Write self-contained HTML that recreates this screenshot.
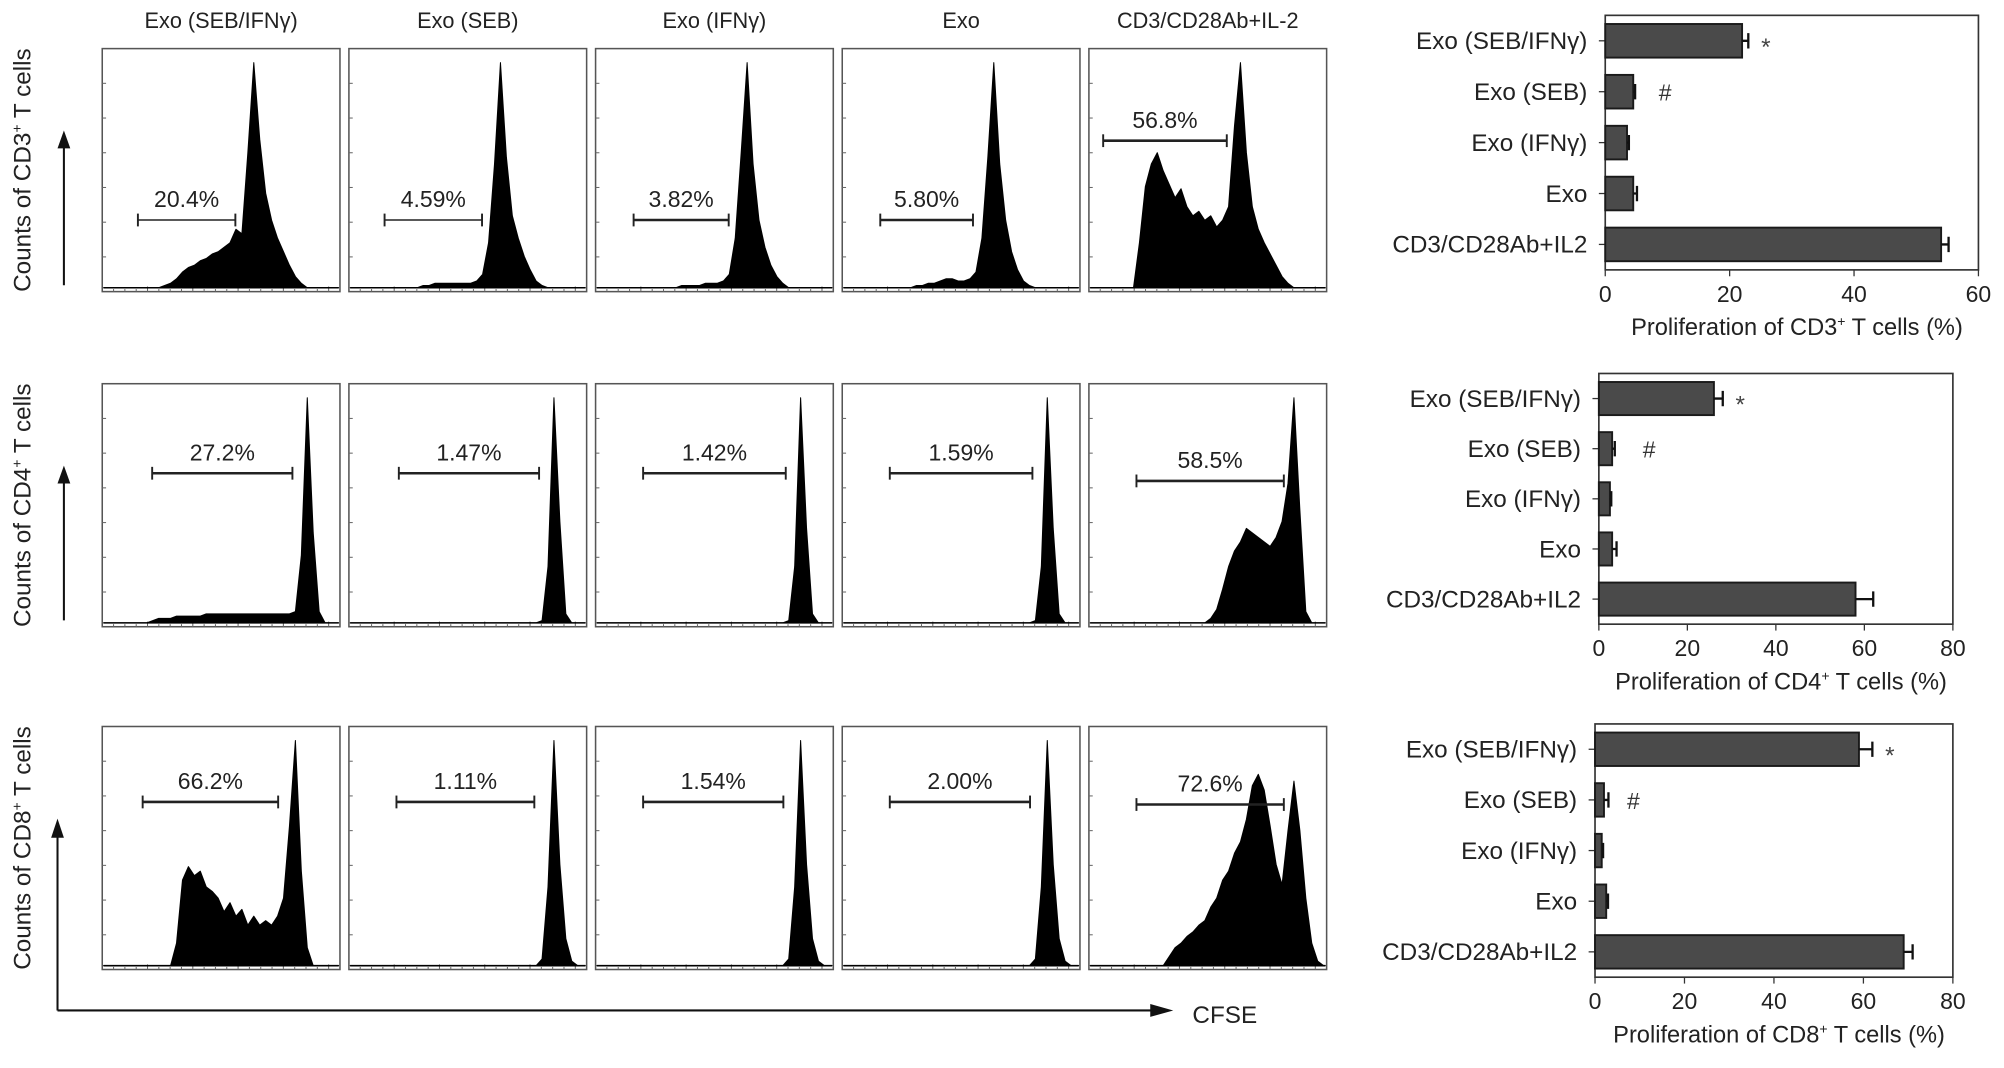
<!DOCTYPE html>
<html><head><meta charset="utf-8"><style>
html,body{margin:0;padding:0;background:#fff}
svg{display:block;font-family:"Liberation Sans",Arial,sans-serif}
</style></head><body>
<svg id="fig" width="2004" height="1068" viewBox="0 0 1568 835" preserveAspectRatio="none"></svg>
<script>
// ---------- Histogram data (40 bins each, relative counts) ----------
const columnTitles = ["Exo (SEB/IFNγ)","Exo (SEB)","Exo (IFNγ)","Exo","CD3/CD28Ab+IL-2"];
const rowLabels = ["CD3","CD4","CD8"];
const gateLabels = [["20.4%","4.59%","3.82%","5.80%","56.8%"],["27.2%","1.47%","1.42%","1.59%","58.5%"],["66.2%","1.11%","1.54%","2.00%","72.6%"]];
const h_r1p1 = [0,0,0,0,0,0,0,0,0,0,0.01,0.02,0.04,0.07,0.09,0.1,0.12,0.13,0.15,0.16,0.18,0.2,0.26,0.24,0.6,1.0,0.66,0.42,0.3,0.22,0.16,0.1,0.05,0.02,0,0,0,0,0,0];
const h_r1p2 = [0,0,0,0,0,0,0,0,0,0,0,0,0.01,0.01,0.02,0.02,0.02,0.02,0.02,0.02,0.02,0.03,0.06,0.2,0.55,1.0,0.58,0.32,0.22,0.14,0.08,0.03,0.01,0,0,0,0,0,0,0];
const h_r1p3 = [0,0,0,0,0,0,0,0,0,0,0,0,0,0,0.01,0.01,0.01,0.01,0.02,0.02,0.02,0.03,0.06,0.22,0.6,1.0,0.55,0.3,0.18,0.1,0.05,0.02,0,0,0,0,0,0,0,0];
const h_r1p4 = [0,0,0,0,0,0,0,0,0,0,0,0,0.01,0.01,0.02,0.02,0.03,0.04,0.04,0.03,0.03,0.04,0.07,0.22,0.58,1.0,0.55,0.3,0.16,0.08,0.03,0.01,0,0,0,0,0,0,0,0];
const h_r1p5 = [0,0,0,0,0,0,0,0,0.2,0.45,0.55,0.6,0.52,0.46,0.4,0.44,0.36,0.32,0.34,0.3,0.32,0.27,0.3,0.36,0.72,1.0,0.6,0.36,0.26,0.2,0.15,0.1,0.05,0.02,0,0,0,0,0,0];
const h_r2p1 = [0,0,0,0,0,0,0,0,0.01,0.02,0.02,0.02,0.03,0.03,0.03,0.03,0.03,0.04,0.04,0.04,0.04,0.04,0.04,0.04,0.04,0.04,0.04,0.04,0.04,0.04,0.04,0.04,0.05,0.3,1.0,0.4,0.05,0,0,0];
const h_r2p2 = [0,0,0,0,0,0,0,0,0,0,0,0,0,0,0,0,0,0,0,0,0,0,0,0,0,0,0,0,0,0,0,0,0.01,0.25,1.0,0.45,0.04,0,0,0];
const h_r2p3 = [0,0,0,0,0,0,0,0,0,0,0,0,0,0,0,0,0,0,0,0,0,0,0,0,0,0,0,0,0,0,0,0,0.01,0.25,1.0,0.42,0.04,0,0,0];
const h_r2p4 = [0,0,0,0,0,0,0,0,0,0,0,0,0,0,0,0,0,0,0,0,0,0,0,0,0,0,0,0,0,0,0,0,0.01,0.25,1.0,0.42,0.04,0,0,0];
const h_r2p5 = [0,0,0,0,0,0,0,0,0,0,0,0,0,0,0,0,0,0,0,0,0.02,0.06,0.15,0.25,0.32,0.36,0.42,0.4,0.38,0.36,0.34,0.38,0.45,0.62,1.0,0.5,0.05,0,0,0];
const h_r3p1 = [0,0,0,0,0,0,0,0,0,0,0,0,0.1,0.38,0.44,0.4,0.42,0.35,0.33,0.3,0.24,0.28,0.22,0.25,0.18,0.22,0.18,0.2,0.18,0.22,0.3,0.62,1.0,0.42,0.08,0,0,0,0,0];
const h_r3p2 = [0,0,0,0,0,0,0,0,0,0,0,0,0,0,0,0,0,0,0,0,0,0,0,0,0,0,0,0,0,0,0,0,0.03,0.35,1.0,0.45,0.12,0.02,0,0];
const h_r3p3 = [0,0,0,0,0,0,0,0,0,0,0,0,0,0,0,0,0,0,0,0,0,0,0,0,0,0,0,0,0,0,0,0,0.03,0.35,1.0,0.45,0.12,0.02,0,0];
const h_r3p4 = [0,0,0,0,0,0,0,0,0,0,0,0,0,0,0,0,0,0,0,0,0,0,0,0,0,0,0,0,0,0,0,0,0.03,0.35,1.0,0.45,0.12,0.02,0,0];
const h_r3p5 = [0,0,0,0,0,0,0,0,0,0,0,0,0,0.04,0.08,0.1,0.13,0.15,0.18,0.2,0.26,0.3,0.38,0.42,0.5,0.55,0.65,0.8,0.85,0.78,0.62,0.45,0.36,0.6,0.82,0.6,0.3,0.1,0.02,0];
const histRows = [[h_r1p1,h_r1p2,h_r1p3,h_r1p4,h_r1p5],[h_r2p1,h_r2p2,h_r2p3,h_r2p4,h_r2p5],[h_r3p1,h_r3p2,h_r3p3,h_r3p4,h_r3p5]];

// ---------- Bar chart data ----------
const barCategories = ["Exo (SEB/IFNγ)","Exo (SEB)","Exo (IFNγ)","Exo","CD3/CD28Ab+IL2"];
const cd3Values = [22,4.5,3.5,4.5,54];
const cd3Errors = [1,0.3,0.3,0.6,1.2];
const cd4Values = [26,3,2.5,3,58];
const cd4Errors = [2,0.6,0.3,1,4];
const cd8Values = [59,2,1.5,2.5,69];
const cd8Errors = [3,1,0.3,0.4,2];
const cd3Ticks = [0,20,40,60];
const cd48Ticks = [0,20,40,60,80];
const barMarks = ["*","#"];

const NS="http://www.w3.org/2000/svg";
const svg=document.getElementById('fig');
function mk(tag,attrs,parent,text){const e=document.createElementNS(NS,tag);for(const k in attrs)e.setAttribute(k,attrs[k]);if(text!==undefined)e.textContent=text;(parent||svg).appendChild(e);return e;}

const panelX0=80, panelW=186, panelPitch=193;
const rowTop=[38,300,568], panelH=190;
const gateY=[[172,172,172,172,110],[370,370,370,370,376],[627,627,627,627,629]];
const gateRel=[[[0.15,0.56],[0.15,0.56],[0.16,0.56],[0.16,0.55],[0.06,0.58]],
               [[0.21,0.8],[0.21,0.8],[0.2,0.8],[0.2,0.8],[0.2,0.82]],
               [[0.17,0.74],[0.2,0.78],[0.2,0.79],[0.2,0.79],[0.2,0.82]]];

columnTitles.forEach((t,i)=>{
  const el=mk('text',{x:panelX0+i*panelPitch+panelW/2,y:22,'text-anchor':'middle','font-size':17,fill:'#222'},svg,t);
  
  
});

histRows.forEach((row,r)=>{
  const top=rowTop[r], base=top+panelH-3, hmax=panelH-14;
  const cy=top+panelH/2;
  const yl=mk('text',{x:0,y:0,transform:`translate(24,${cy}) rotate(-90)`,'text-anchor':'middle','font-size':19,fill:'#222'});
  yl.innerHTML=`Counts of ${rowLabels[r]}<tspan dy="-7" font-size="11">+</tspan><tspan dy="7"> T cells</tspan>`;
  
  
  if(r<2){
    const ar=mk('g',{});
    
    
    mk('line',{x1:50,y1:top+185,x2:50,y2:top+75,stroke:'#111','stroke-width':1.6},ar);
    mk('path',{d:`M45,${top+78} L50,${top+64} L55,${top+78} Z`,fill:'#111'},ar);
  }
  row.forEach((hist,c)=>{
    const x0=panelX0+c*panelPitch;
    const g=mk('g',{});
    
    
    mk('rect',{x:x0,y:top,width:panelW,height:panelH,fill:'#fff',stroke:'#555','stroke-width':1.2},g);
    for(let k=1;k<=20;k++){const tx=x0+k*panelW/21;mk('line',{x1:tx,y1:top+panelH,x2:tx,y2:top+panelH-(k%4==0?4:2),stroke:'#666','stroke-width':0.8},g);}
    for(let k=1;k<=6;k++){const ty=top+panelH-k*panelH/7;mk('line',{x1:x0,y1:ty,x2:x0+3,y2:ty,stroke:'#666','stroke-width':0.8},g);}
    const n=hist.length, bw=panelW/n;
    const sx=i=>x0+(i+0.5)*bw, sy=v=>base-v*hmax;
    let d=`M${x0+1},${base} L${sx(0)},${sy(hist[0])}`;
    for(let i=1;i<n;i++) d+=` L${sx(i)},${sy(hist[i])}`;
    d+=` L${x0+panelW-1},${base} Z`;
    const p=mk('path',{d,fill:'#000',stroke:'#000','stroke-width':0.8,'stroke-linejoin':'round'},g);
    
    
    mk('line',{x1:x0+1,y1:base,x2:x0+panelW-1,y2:base,stroke:'#000','stroke-width':1.2},g);
    const gy=gateY[r][c], ga=x0+gateRel[r][c][0]*panelW, gb=x0+gateRel[r][c][1]*panelW;
    const sw=r===0&&c<2?1.2:2;
    const gate=mk('g',{},g);
    
    
    mk('line',{x1:ga,y1:gy,x2:gb,y2:gy,stroke:'#222','stroke-width':sw},gate);
    mk('line',{x1:ga,y1:gy-5,x2:ga,y2:gy+5,stroke:'#222','stroke-width':1.5},gate);
    mk('line',{x1:gb,y1:gy-5,x2:gb,y2:gy+5,stroke:'#222','stroke-width':1.5},gate);
    const gl=mk('text',{x:(ga+gb)/2,y:gy-10,'text-anchor':'middle','font-size':18,fill:'#222'},gate,gateLabels[r][c]);
    
    
  });
});
const la=mk('g',{});


mk('path',{d:'M45,790 L45,652 M45,790 L905,790',fill:'none',stroke:'#111','stroke-width':1.6},la);
mk('path',{d:'M40,655 L45,640 L50,655 Z',fill:'#111'},la);
mk('path',{d:'M900,785 L918,790 L900,795 Z',fill:'#111'},la);
const cf=mk('text',{x:933,y:800,'font-size':19,fill:'#222'},svg,'CFSE');



function barChart(cfg){
  const {id,left,right,top,bottom,max,ticks,values,errors,label,hash}=cfg;
  const g=mk('g',{});
  
  
  const sx=v=>left+v/max*(right-left);
  const step=(bottom-top)/barCategories.length;
  const sy=i=>top+step*(i+0.5);
  mk('rect',{x:left,y:top,width:right-left,height:bottom-top,fill:'none',stroke:'#333','stroke-width':1.3},g);
  barCategories.forEach((cat,i)=>{
    const y=sy(i), bh=step*0.66;
    mk('line',{x1:left-5,y1:y,x2:left,y2:y,stroke:'#333','stroke-width':1},g);
    const t=mk('text',{x:left-14,y:y+6.5,'text-anchor':'end','font-size':19,fill:'#222'},g,cat);
    
    
    const b=mk('rect',{x:left,y:y-bh/2,width:sx(values[i])-left,height:bh,fill:'#4a4a4a',stroke:'#1a1a1a','stroke-width':1.5},g);
    
    
    const e1=sx(values[i]+errors[i]);
    const eb=mk('path',{d:`M${sx(values[i])},${y} L${e1},${y} M${e1},${y-6} L${e1},${y+6}`,stroke:'#111','stroke-width':1.8,fill:'none'},g);
    
    
  });
  const s=mk('text',{x:sx(values[0]+errors[0])+10,y:sy(0)+11,'font-size':19,fill:'#444'},g,barMarks[0]);
  
  
  const h=mk('text',{x:sx(values[1])+hash,y:sy(1)+7,'font-size':18,fill:'#333'},g,barMarks[1]);
  
  
  ticks.forEach(tv=>{
    const x=sx(tv);
    mk('line',{x1:x,y1:bottom,x2:x,y2:bottom+5,stroke:'#333','stroke-width':1},g);
    const tl=mk('text',{x,y:bottom+25,'text-anchor':'middle','font-size':18,fill:'#222'},g,String(tv));
    
    
  });
  const xl=mk('text',{x:(left+right)/2+4,y:bottom+51,'text-anchor':'middle','font-size':18.5,fill:'#222'},g);
  xl.innerHTML=`Proliferation of ${label}<tspan dy="-7" font-size="11">+</tspan><tspan dy="7"> T cells (%)</tspan>`;
  
  
}
barChart({id:'cd3',left:1256,right:1548,top:12,bottom:211,max:60,ticks:cd3Ticks,values:cd3Values,errors:cd3Errors,label:'CD3',hash:20});
barChart({id:'cd4',left:1251,right:1528,top:292,bottom:488,max:80,ticks:cd48Ticks,values:cd4Values,errors:cd4Errors,label:'CD4',hash:24});
barChart({id:'cd8',left:1248,right:1528,top:566,bottom:764,max:80,ticks:cd48Ticks,values:cd8Values,errors:cd8Errors,label:'CD8',hash:18});
</script>
</body></html>
